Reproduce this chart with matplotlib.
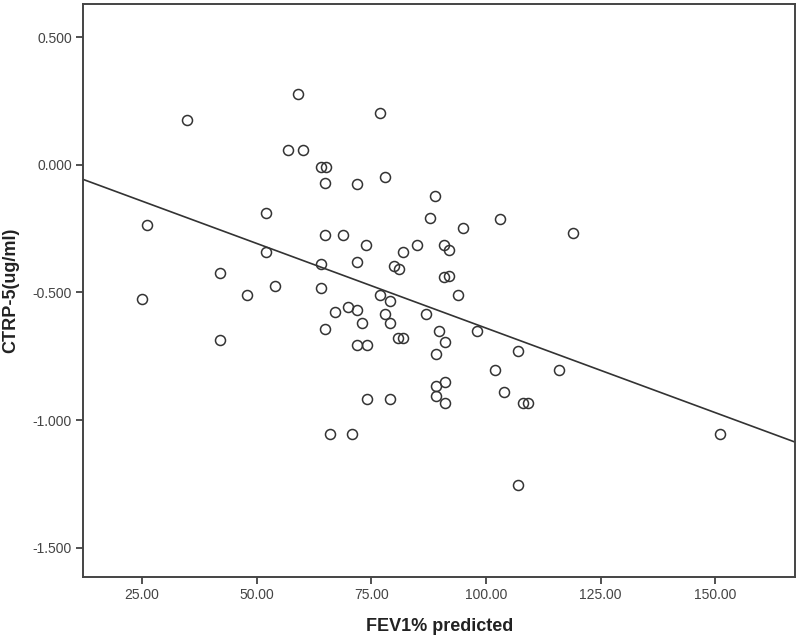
import numpy as np
import matplotlib
matplotlib.use("Agg")
import matplotlib.pyplot as plt
from matplotlib.ticker import FormatStrFormatter

# values
fev1 = [59.0, 34.9, 77.0, 56.9, 60.1, 64.0, 65.1, 64.9, 71.9, 78.0,
        88.9, 87.9, 52.0, 26.0, 64.9, 68.9, 73.9, 85.0, 82.0, 52.0,
        64.0, 71.9, 80.0, 81.1, 42.0, 54.0, 48.0, 64.0, 25.0, 77.0,
        79.0, 67.0, 69.9, 71.9, 78.0, 87.0, 73.0, 79.0, 64.9, 89.8,
        42.0, 80.9, 82.0, 103.0, 95.0, 119.0, 90.9, 92.0, 90.9, 92.0,
        94.0, 98.0, 91.0, 89.0, 107.0, 102.0, 116.0, 71.9, 74.0, 89.0,
        91.0, 89.0, 91.0, 104.0, 108.1, 109.1, 74.0, 79.0, 66.0, 70.9,
        107.0, 150.9]
ctrp5 = [0.278, 0.176, 0.203, 0.059, 0.059, -0.008, -0.008, -0.073, -0.076, -0.050,
         -0.124, -0.208, -0.188, -0.238, -0.277, -0.274, -0.316, -0.316, -0.340, -0.340,
         -0.389, -0.380, -0.398, -0.407, -0.426, -0.477, -0.509, -0.481, -0.526, -0.509,
         -0.533, -0.578, -0.557, -0.571, -0.584, -0.584, -0.620, -0.620, -0.643, -0.653,
         -0.685, -0.680, -0.680, -0.212, -0.248, -0.268, -0.316, -0.336, -0.440, -0.436,
         -0.509, -0.653, -0.696, -0.742, -0.731, -0.804, -0.804, -0.705, -0.705, -0.866,
         -0.853, -0.905, -0.933, -0.890, -0.933, -0.933, -0.918, -0.918, -1.054, -1.054,
         -1.253, -1.054]

xticks = [25, 50, 75, 100, 125, 150]
yticks = [0.5, 0.0, -0.5, -1.0, -1.5]

plt.rcParams['font.family'] = ['Liberation Sans', 'DejaVu Sans']
plt.rcParams['axes.unicode_minus'] = False

fig = plt.figure(figsize=(8, 6.42), dpi=100)
ax = fig.add_axes([0.104, 0.102, 0.890, 0.892])

x = np.array(fev1)
y = np.array(ctrp5)
ax.plot(x, y, 'o', ms=7.2, mfc='none', mec='#333333', mew=1.1)

# linear fit line across the whole axis
xlim = (12.2, 167.4)
k, b = np.polyfit(x, y, 1)
xs = np.array(xlim)
ax.plot(xs, k * xs + b, color='#333333', lw=1.2)

ax.set_xlim(*xlim)
ax.set_ylim(-1.613, 0.630)
ax.set_xticks(xticks)
ax.set_yticks(yticks)
ax.xaxis.set_major_formatter(FormatStrFormatter('%.2f'))
ax.yaxis.set_major_formatter(FormatStrFormatter('%.3f'))
ax.tick_params(direction='out', length=5, width=1.2, color='#333333',
               labelsize=10, labelcolor='#444444', pad=3)

for s in ax.spines.values():
    s.set_color('#444444')
    s.set_linewidth(1.4)

ax.set_xlabel('FEV1% predicted', fontsize=13, fontweight='bold', color='#222222', labelpad=12)
ax.set_ylabel('CTRP-5(ug/ml)', fontsize=13, fontweight='bold', color='#222222', labelpad=10)

fig.savefig('out.png', dpi=100)
